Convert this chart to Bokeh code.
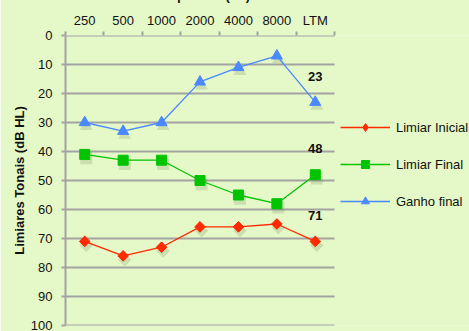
from bokeh.plotting import figure
from bokeh.models import Range1d, FixedTicker, Legend, LegendItem, Title, ColumnDataSource
from bokeh.embed import file_html
from bokeh.resources import INLINE
from bokeh.core.properties import value
from bokeh.transform import dodge

categories = ["250", "500", "1000", "2000", "4000", "8000", "LTM"]
limiar_inicial = [71, 76, 73, 66, 66, 65, 71]
limiar_final = [41, 43, 43, 50, 55, 58, 48]
ganho_final = [30, 33, 30, 16, 11, 7, 23]
y_ticks = list(range(0, 101, 10))

FONT = "Liberation Sans"
GRAY = "#a3a3a3"
BG = "#e5f8c7"
SHIFT = 24  # px of the figure hidden above the window (title is cut off there)

n = len(categories)
xs = [i + 0.5 for i in range(n)]
src = ColumnDataSource(dict(x=xs, ini=limiar_inicial, fin=limiar_final, gan=ganho_final))

# frame spans to the right edge; the plotting area covers x in [0, n], legend sits beyond
X_MAX = n * 404 / 269.0
p = figure(width=469, height=331 + SHIFT, output_backend="svg", toolbar_location=None,
           x_range=Range1d(0, X_MAX), y_range=Range1d(100, 0),
           x_axis_location="above",
           min_border_left=65, min_border_right=0, min_border_top=35 + SHIFT, min_border_bottom=6)
p.styles = {"margin-top": f"-{SHIFT}px"}
p.background_fill_color = BG
p.border_fill_color = BG
p.outline_line_color = None
p.xgrid.visible = False
p.ygrid.visible = False

# horizontal grid lines limited to the category area
p.segment(x0=[0] * len(y_ticks), x1=[n] * len(y_ticks), y0=y_ticks, y1=y_ticks,
          line_color=GRAY, line_width=2)

# x axis (top)
xa = p.xaxis[0]
xa.ticker = FixedTicker(ticks=xs, minor_ticks=list(range(n + 1)))
xa.major_label_overrides = {x: c for x, c in zip(xs, categories)}
xa.major_tick_line_color = None
xa.major_tick_out = 4
xa.major_tick_in = 0
xa.minor_tick_out = 4
xa.minor_tick_in = 0
xa.minor_tick_line_color = GRAY
xa.minor_tick_line_width = 2
xa.axis_line_color = None
xa.major_label_standoff = 4
xa.major_label_text_font = FONT
xa.major_label_text_font_size = "13px"
xa.major_label_text_color = "#111111"

# y axis
ya = p.yaxis[0]
ya.ticker = FixedTicker(ticks=y_ticks)
ya.minor_tick_line_color = None
ya.major_tick_out = 4
ya.major_tick_in = 0
ya.major_tick_line_color = GRAY
ya.major_tick_line_width = 2
ya.axis_line_color = GRAY
ya.axis_line_width = 2
ya.major_label_standoff = 9
ya.major_label_text_font = FONT
ya.major_label_text_font_size = "13px"
ya.major_label_text_color = "#111111"
ya.axis_label = "Limiares Tonais (dB HL)"
ya.axis_label_text_font = FONT
ya.axis_label_text_font_size = "13px"
ya.axis_label_text_font_style = "bold"
ya.axis_label_text_color = "#111111"
ya.axis_label_standoff = 1

series = [
    ("Limiar Inicial", "ini", "#ff2a00", "square", 7.5, 0.785398, "diamond", 10),
    ("Limiar Final", "fin", "#00c400", "square", 10, 0.0, None, 0),
    ("Ganho final", "gan", "#4a88ff", "triangle", 11, 0.0, None, 0),
]

items = []
for name, col, color, marker, size, ang, leg_marker, leg_size in series:
    p.scatter(x=dodge("x", 0.04), y=dodge(col, 1.3), source=src, marker=marker, size=size + 2, angle=ang,
              fill_color="#5a6a40", line_color=None, fill_alpha=0.18)
    l = p.line("x", col, source=src, line_color=color, line_width=1.3)
    lm = None
    if leg_marker is not None:
        # legend swatch (diamond); drawn first so the rotated squares cover it in the plot
        lm = p.scatter("x", col, source=src, marker=leg_marker, size=leg_size,
                       fill_color=color, line_color=color)
    m = p.scatter("x", col, source=src, marker=marker, size=size, angle=ang,
                  fill_color=color, line_color=color)
    items.append(LegendItem(label=name, renderers=[l, lm if lm is not None else m]))

# data labels at LTM
last = n - 1
lab_src = ColumnDataSource(dict(
    x=[xs[last]] * 3,
    y=[ganho_final[last], limiar_final[last], limiar_inicial[last]],
    t=[str(ganho_final[last]), str(limiar_final[last]), str(limiar_inicial[last])]))
p.text("x", "y", text="t", source=lab_src, y_offset=-26, text_align="center", text_baseline="middle",
       text_font=value(FONT), text_font_size="13px", text_font_style="bold", text_color="#111111")

legend = Legend(items=items, location=(275, 114), padding=0, margin=0, spacing=17,
                glyph_width=50, glyph_height=20, label_standoff=6,
                border_line_color=None, background_fill_alpha=0,
                label_text_font=FONT, label_text_font_size="13px", label_text_color="#111111")
p.add_layout(legend, "center")

# title: mostly hidden above the window, as in the reference
p.add_layout(Title(text="Frequência (Hz)", align="left", offset=87, standoff=14, text_font=FONT,
                   text_font_size="13px", text_font_style="bold", text_color="#111111"), "above")

open("out.html", "w").write(file_html(p, INLINE))
